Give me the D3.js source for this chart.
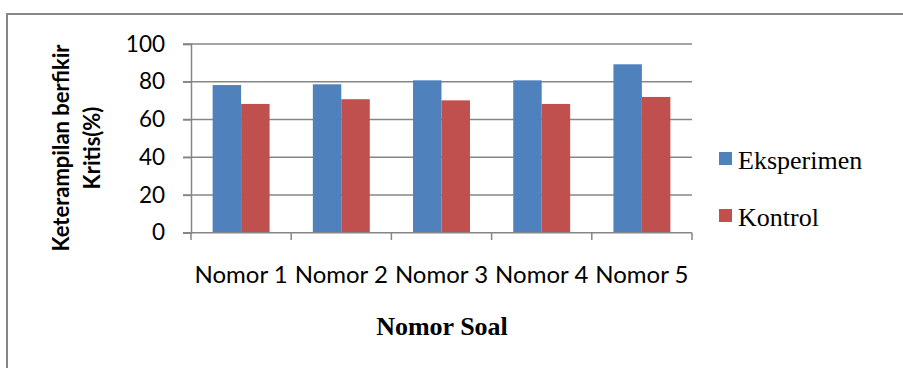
<!DOCTYPE html>
<html><head><meta charset="utf-8">
<script src="https://cdn.jsdelivr.net/npm/d3@7"></script>
<style>body{margin:0;background:#fff}svg{display:block}</style>
</head><body>
<script>
const categories = ["Nomor 1","Nomor 2","Nomor 3","Nomor 4","Nomor 5"];
const seriesNames = ["Eksperimen","Kontrol"];
const eksperimen = [78.2, 78.6, 80.7, 80.7, 89.2];
const kontrol = [68.2, 70.7, 70.1, 68.2, 71.9];
const yTicks = [0,20,40,60,80,100];
const colors = ["#4F81BD","#C0504D"];
const values = [eksperimen, kontrol];

const W=903,H=368;
const svg=d3.select("body").append("svg").attr("width",W).attr("height",H);
svg.append("rect").attr("x",7).attr("y",14).attr("width",W).attr("height",H)
  .attr("fill","#fff").attr("stroke","#868686").attr("stroke-width",2);

const x0=d3.scaleBand().domain(categories).range([191,692]).padding(0);
const x1=d3.scaleBand().domain(seriesNames).range([0,x0.bandwidth()]).paddingInner(0).paddingOuter(0.76);
const y=d3.scaleLinear().domain([0,100]).range([232.7,43.9]);

svg.append("g").selectAll("line").data(yTicks.filter(d=>d>0)).join("line")
  .attr("x1",183).attr("x2",692).attr("y1",d=>y(d)).attr("y2",d=>y(d))
  .attr("stroke","#868686").attr("stroke-width",1.5);

const ya=svg.append("g").attr("transform","translate(191,0)")
  .call(d3.axisLeft(y).tickValues(yTicks).tickSize(8).tickPadding(18));
ya.select(".domain").attr("stroke","#868686").attr("stroke-width",1.5);
ya.selectAll(".tick line").attr("stroke","#868686").attr("stroke-width",1.5);
ya.selectAll("text").attr("font-family","Lato").attr("font-size",22.5).attr("fill","#000");

const g=svg.append("g");
categories.forEach((c,i)=>{
  seriesNames.forEach((s,j)=>{
    g.append("rect").attr("x",x0(c)+x1(s)).attr("width",x1.bandwidth())
      .attr("y",y(values[j][i])).attr("height",y(0)-y(values[j][i]))
      .attr("fill",colors[j]);
  });
});

const xa=svg.append("g").attr("transform","translate(0,232.7)")
  .call(d3.axisBottom(x0).tickSize(0).tickPadding(33));
xa.select(".domain").attr("stroke","#868686").attr("stroke-width",1.5).attr("d","M183,0H692");
xa.selectAll("text").attr("font-family","Lato").attr("font-size",24).attr("fill","#000");
const edges=[...categories.map(c=>x0(c)), 692];
svg.append("g").selectAll("line").data(edges).join("line")
  .attr("x1",d=>d).attr("x2",d=>d).attr("y1",232.7).attr("y2",240)
  .attr("stroke","#868686").attr("stroke-width",1.5);

svg.append("text").attr("x",442).attr("y",335).attr("text-anchor","middle")
  .attr("font-family","Liberation Serif").attr("font-weight","bold").attr("font-size",26)
  .text("Nomor Soal");
const yt=svg.append("text").attr("transform","translate(0,148) rotate(-90)")
  .attr("text-anchor","middle").attr("font-family","Lato").attr("font-weight","bold").attr("font-size",22);
yt.append("tspan").attr("x",0).attr("y",69).text("Keterampilan berfikir");
yt.append("tspan").attr("x",0).attr("y",100).text("Kritis(%)");

const lg=svg.append("g");
seriesNames.forEach((s,j)=>{
  const yy=[152,209][j];
  lg.append("rect").attr("x",719).attr("y",yy).attr("width",13).attr("height",13).attr("fill",colors[j]);
  lg.append("text").attr("x",738).attr("y",yy+17).attr("font-family","Liberation Serif")
    .attr("font-size",26).text(s);
});
</script>
</body></html>
